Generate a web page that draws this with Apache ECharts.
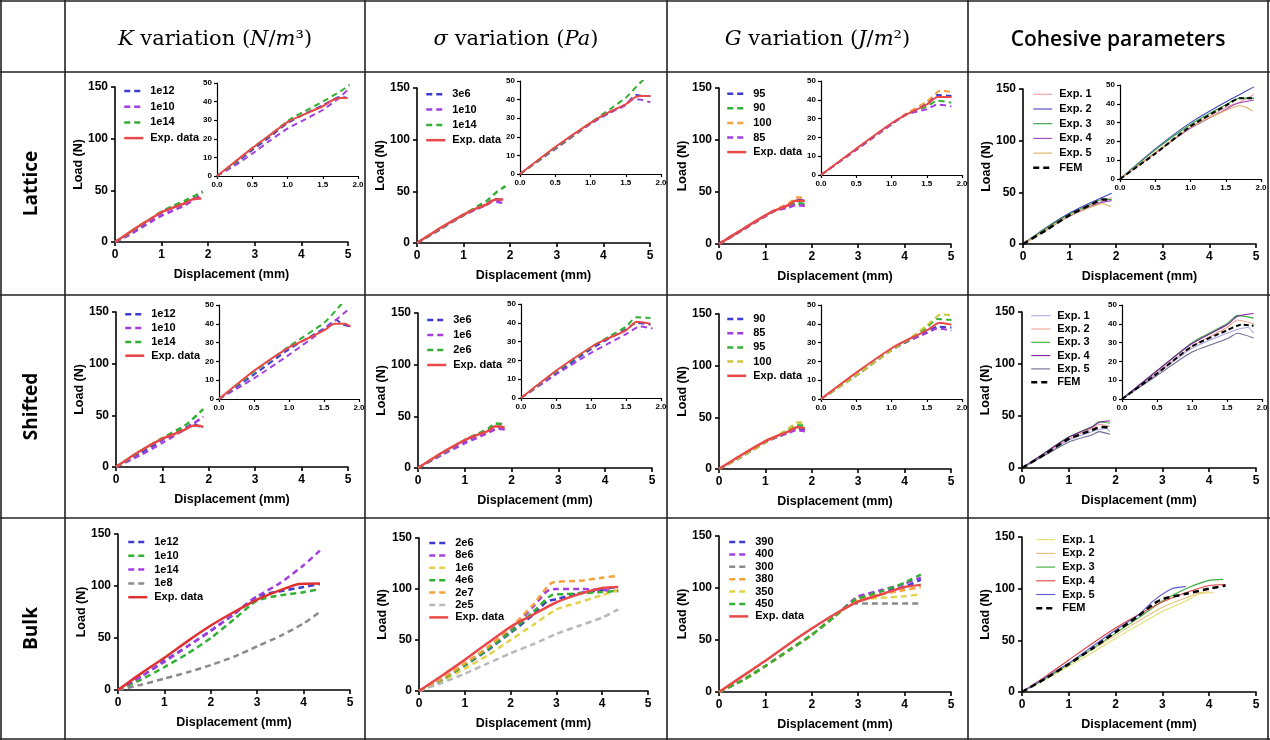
<!DOCTYPE html>
<html>
<head>
<meta charset="utf-8">
<script src="https://cdn.jsdelivr.net/npm/echarts@6/dist/echarts.min.js"></script>
<style>
  html, body { margin: 0; padding: 0; background: #fff; }
  #main { width: 1270px; height: 740px; }
</style>
</head>
<body>
<div id="main"></div>
<script>
// ---- data: [displacement (mm), load (N)] ----
// Lattice row
var latK_e12 = [[0,0],[0.25,6.5],[0.5,14],[0.75,21],[1,28.5],[1.25,33.5],[1.5,38],[1.75,42.5],[1.85,42]];
var latK_e10 = [[0,0],[0.25,5.5],[0.5,12],[0.75,19],[1,25.5],[1.25,30.5],[1.5,35.5],[1.75,42.5],[1.88,47.5]];
var latK_e14 = [[0,0],[0.25,7],[0.5,15],[0.75,22],[1,29.5],[1.25,35],[1.5,40],[1.75,45.5],[1.88,49]];
var latK_exp = [[0,0],[0.25,7.5],[0.5,15],[0.75,22],[1,29],[1.2,32.5],[1.5,37.5],[1.65,41],[1.75,42],[1.85,42]];

var latS_3e6 = [[0,0],[0.5,13.5],[1,27],[1.25,32.5],[1.5,37.5],[1.65,42.5],[1.75,42],[1.85,42]];
var latS_e10 = [[0,0],[0.5,13.5],[1,27],[1.25,32.5],[1.5,37],[1.6,40],[1.7,40],[1.85,38.5]];
var latS_e14 = [[0,0],[0.5,14],[1,27.5],[1.3,35.5],[1.5,41],[1.73,50],[1.9,55]];
var latS_exp = [[0,0],[0.5,14.5],[1,27.5],[1.25,33],[1.5,37.5],[1.62,41],[1.7,42],[1.85,42]];

var latG_95 = [[0,0],[0.5,13.5],[1,27],[1.2,32],[1.5,38],[1.65,42.5],[1.85,42]];
var latG_90 = [[0,0],[0.5,13.5],[1,27],[1.2,32],[1.5,36.5],[1.65,39.5],[1.85,38.5]];
var latG_100 = [[0,0],[0.5,13.5],[1,27],[1.2,32.5],[1.5,39],[1.7,45],[1.85,44]];
var latG_85 = [[0,0],[0.5,13.5],[1,27],[1.2,32],[1.5,35],[1.65,37.5],[1.85,36.5]];
var latG_exp = [[0,0],[0.5,14],[1,27.5],[1.2,32],[1.5,37.5],[1.65,41.5],[1.85,41.5]];

var latC_1 = [[0,0],[0.5,13.5],[1,27.5],[1.5,38],[1.7,41],[1.9,45]];
var latC_2 = [[0,0],[0.5,16],[1,30],[1.5,41],[1.7,45],[1.9,49]];
var latC_3 = [[0,0],[0.5,15.5],[1,29],[1.5,39.5],[1.7,43],[1.9,43]];
var latC_4 = [[0,0],[0.5,14],[1,27],[1.5,37],[1.65,40],[1.9,42]];
var latC_5 = [[0,0],[0.5,14],[1,27.5],[1.5,36.5],[1.7,39],[1.8,38],[1.88,36]];
var latC_fem = [[0,0],[0.5,13.5],[1,28],[1.5,39],[1.7,43],[1.9,43]];

// Shifted row
var shK_e12 = [[0,0],[0.5,13],[1,26.5],[1.25,32],[1.5,37.5],[1.68,42],[1.75,40],[1.88,38.5]];
var shK_e10 = [[0,0],[0.5,11],[1,23.5],[1.5,37],[1.88,48.5]];
var shK_e14 = [[0,0],[0.5,14.5],[1,28],[1.5,40.5],[1.75,50.5],[1.88,56]];
var shK_exp = [[0,0],[0.5,15],[1,27.5],[1.2,31],[1.5,36.5],[1.65,40],[1.8,40],[1.88,38.5]];

var shS_3e6 = [[0,0],[0.5,13],[1,26],[1.25,31.5],[1.5,36.5],[1.65,40],[1.85,39]];
var shS_1e6 = [[0,0],[0.5,12.5],[1,24],[1.25,29],[1.5,34],[1.7,38],[1.88,37]];
var shS_2e6 = [[0,0],[0.5,14],[1,27],[1.25,32.5],[1.5,38],[1.65,43],[1.85,42.5]];
var shS_exp = [[0,0],[0.5,14.5],[1,27],[1.2,31],[1.5,36],[1.65,40.5],[1.85,39.5]];

var shG_90 = [[0,0],[0.5,12.5],[1,26],[1.25,31],[1.5,35.5],[1.65,38.5],[1.85,38]];
var shG_85 = [[0,0],[0.5,12.5],[1,26],[1.25,31],[1.5,35],[1.65,37.5],[1.85,36.5]];
var shG_95 = [[0,0],[0.5,12.5],[1,26],[1.25,31.5],[1.5,38],[1.65,42.5],[1.85,42]];
var shG_100 = [[0,0],[0.5,12.5],[1,26],[1.25,32],[1.5,39],[1.7,45],[1.85,44.5]];
var shG_exp = [[0,0],[0.5,14],[1,27],[1.2,31],[1.5,36.5],[1.68,40.5],[1.85,39.5]];

var shC_1 = [[0,0],[0.5,13.5],[1,27],[1.5,35],[1.65,37],[1.8,38],[1.88,35]];
var shC_2 = [[0,0],[0.5,14],[1,28],[1.5,38],[1.65,42],[1.88,40]];
var shC_3 = [[0,0],[0.5,15],[1,30],[1.5,40],[1.65,44.5],[1.88,43]];
var shC_4 = [[0,0],[0.5,15],[1,29.5],[1.5,39.5],[1.65,44],[1.88,45.5]];
var shC_5 = [[0,0],[0.5,12.5],[1,25],[1.5,32],[1.65,35],[1.88,32.5]];
var shC_fem = [[0,0],[0.5,13.5],[1,28],[1.5,36.5],[1.7,39.5],[1.88,39]];

// Bulk row
var bulkK_e12 = [[0,0],[0.5,13],[1,28],[1.5,42],[2,57],[2.5,73],[3,90],[3.5,95],[4,99],[4.35,102]];
var bulkK_e10 = [[0,0],[0.5,10],[1,22],[1.5,35],[2,50],[2.5,68],[3,86],[3.5,91],[4,94],[4.35,97]];
var bulkK_e14 = [[0,0],[0.5,13],[1,27],[1.5,42],[2,57],[2.5,73],[3,90],[3.5,103],[4,120],[4.35,134]];
var bulkK_e8 = [[0,0],[0.5,5],[1,11],[1.5,17],[2,24],[2.5,32],[3,42],[3.5,52],[4,64],[4.35,75]];
var bulkK_exp = [[0,0],[0.5,16],[1,31],[1.5,47],[2,62],[2.5,75],[3,87],[3.5,96],[3.9,102],[4.35,102.5]];

var bulkS_2e6 = [[0,0],[0.5,11],[1,25],[1.5,40],[2,57],[2.5,75],[2.8,88],[3,90],[3.5,96],[4,99],[4.35,103]];
var bulkS_8e6 = [[0,0],[0.5,11],[1,26],[1.5,42],[2,60],[2.5,83],[2.8,98],[3,100],[3.5,100],[4,99],[4.35,98]];
var bulkS_1e6 = [[0,0],[0.5,10],[1,22],[1.5,35],[2,50],[2.5,65],[3,80],[3.5,87],[4,94],[4.35,99]];
var bulkS_4e6 = [[0,0],[0.5,11],[1,25.5],[1.5,41],[2,58],[2.5,78],[2.9,94],[3.2,95],[3.6,96],[4,97],[4.35,98]];
var bulkS_2e7 = [[0,0],[0.5,12],[1,27],[1.5,43],[2,62],[2.5,85],[2.9,106],[3.5,108],[4,111],[4.35,113]];
var bulkS_2e5 = [[0,0],[0.5,8],[1,17],[1.5,27],[2,37],[2.5,46],[3,56],[3.5,64],[4,72],[4.35,80]];
var bulkS_exp = [[0,0],[0.5,15],[1,30.5],[1.5,47],[2,63],[2.5,75],[3,87],[3.5,95],[4,101],[4.35,102]];

var bulkG_390 = [[0,0],[0.5,11],[1,25],[1.5,40],[2,55],[2.5,73],[2.9,88],[3,91],[3.5,97],[4,101],[4.35,108]];
var bulkG_400 = [[0,0],[0.5,11],[1,25],[1.5,40],[2,55],[2.5,73],[2.9,89],[3,92],[3.5,98],[4,104],[4.35,110]];
var bulkG_300 = [[0,0],[0.5,11],[1,25],[1.5,40],[2,55],[2.5,73],[2.9,85],[3.2,85],[4.35,85]];
var bulkG_380 = [[0,0],[0.5,11],[1,25],[1.5,40],[2,55],[2.5,73],[2.9,87],[3,89],[3.5,94],[4,98],[4.35,101]];
var bulkG_350 = [[0,0],[0.5,11],[1,25],[1.5,40],[2,55],[2.5,73],[2.9,86],[3,88],[3.3,90],[4,92],[4.35,94]];
var bulkG_450 = [[0,0],[0.5,11],[1,25],[1.5,40],[2,55],[2.5,73],[2.9,88],[3,90],[3.5,97],[4,105],[4.35,113]];
var bulkG_exp = [[0,0],[0.5,15],[1,30],[1.5,46],[2,61],[2.5,75],[3,87],[3.5,94],[4,101],[4.35,103]];

var bulkC_1 = [[0,0],[0.5,12],[1,25],[1.5,38],[2,52],[2.5,65],[3,78],[3.5,88],[3.8,95],[4.1,96]];
var bulkC_2 = [[0,0],[0.5,13],[1,27],[1.5,41],[2,55],[2.5,69],[3,82],[3.5,91],[3.8,96],[4,97]];
var bulkC_3 = [[0,0],[0.5,13],[1,27],[1.5,42],[2,57],[2.5,72],[3,88],[3.5,100],[4,108],[4.3,109]];
var bulkC_4 = [[0,0],[0.5,15],[1,31],[1.5,47],[2,62],[2.5,75],[3,87],[3.5,96],[4,103],[4.35,104]];
var bulkC_5 = [[0,0],[0.5,14],[1,28],[1.5,44],[2,60],[2.5,75],[2.8,88],[3.2,100],[3.5,102]];
var bulkC_fem = [[0,0],[0.5,13],[1,27],[1.5,42],[2,58],[2.5,74],[2.8,85],[3,90],[3.5,95],[4,100],[4.35,103]];

// tick labels / headers
var mainXTicks = [0, 1, 2, 3, 4, 5];
var colHeaders = ['{i|K} variation ({i|N}/{i|m}³)', '{i|σ} variation ({i|Pa})', '{i|G} variation ({i|J}/{i|m}²)', 'Cohesive parameters'];
var rowHeaders = ['Lattice', 'Shifted', 'Bulk'];

// colours
var BLUE = '#3c3cd2', PURPLE = '#a33ee0', GREEN = '#33b033', RED = '#e84848',
    ORANGE = '#f3a23e', GRAY = '#8a8a8a', LGRAY = '#b8b8b8', YELLOW = '#e2d24a', OLIVE = '#c8c838';
var FONT = '"Liberation Sans", Arial, sans-serif';

// cell layout: main plot rect, inset rect, legend [left, top, gap]
var cells = [
  { main: [115, 87, 348, 242], inset: [217, 83, 358, 176], leg: [123, 85.5, 4.7],
    curves: [['1e12', latK_e12, BLUE, 'dash'], ['1e10', latK_e10, PURPLE, 'dash'], ['1e14', latK_e14, GREEN, 'dash'], ['Exp. data', latK_exp, RED, 'solid']] },
  { main: [417, 88, 650, 243], inset: [520, 81, 661, 174], leg: [425, 88.8, 4.3],
    curves: [['3e6', latS_3e6, BLUE, 'dash'], ['1e10', latS_e10, PURPLE, 'dash'], ['1e14', latS_e14, GREEN, 'dash'], ['Exp. data', latS_exp, RED, 'solid']] },
  { main: [719, 88, 951, 244], inset: [821, 81, 962, 175], leg: [726, 88.2, 3.6],
    curves: [['95', latG_95, BLUE, 'dash'], ['90', latG_90, GREEN, 'dash'], ['100', latG_100, ORANGE, 'dash'], ['85', latG_85, PURPLE, 'dash'], ['Exp. data', latG_exp, RED, 'solid']] },
  { main: [1023, 89, 1256, 244], inset: [1120, 85, 1261, 179], leg: [1032, 88.8, 3.7],
    curves: [['Exp. 1', latC_1, '#f2a0a0', 'thin'], ['Exp. 2', latC_2, '#4646c0', 'thin'], ['Exp. 3', latC_3, '#2f9f3a', 'thin'], ['Exp. 4', latC_4, '#a044c4', 'thin'], ['Exp. 5', latC_5, '#e0b060', 'thin'], ['FEM', latC_fem, '#000', 'fem']] },

  { main: [116, 312, 348, 467], inset: [219, 305, 359, 399], leg: [124, 308.8, 2.8],
    curves: [['1e12', shK_e12, BLUE, 'dash'], ['1e10', shK_e10, PURPLE, 'dash'], ['1e14', shK_e14, GREEN, 'dash'], ['Exp. data', shK_exp, RED, 'solid']] },
  { main: [418, 313, 652, 468], inset: [521, 304, 661, 398], leg: [426, 314.5, 4],
    curves: [['3e6', shS_3e6, BLUE, 'dash'], ['1e6', shS_1e6, PURPLE, 'dash'], ['2e6', shS_2e6, GREEN, 'dash'], ['Exp. data', shS_exp, RED, 'solid']] },
  { main: [719, 314, 951, 469], inset: [821, 305, 962, 399], leg: [726, 313.5, 3.2],
    curves: [['90', shG_90, BLUE, 'dash'], ['85', shG_85, PURPLE, 'dash'], ['95', shG_95, GREEN, 'dash'], ['100', shG_100, OLIVE, 'dash'], ['Exp. data', shG_exp, RED, 'solid']] },
  { main: [1022, 312, 1256, 468], inset: [1122, 305, 1262, 399], leg: [1030, 310.2, 2.3],
    curves: [['Exp. 1', shC_1, '#a8a8e8', 'thin'], ['Exp. 2', shC_2, '#f0a090', 'thin'], ['Exp. 3', shC_3, '#3aae3a', 'thin'], ['Exp. 4', shC_4, '#7a1e9e', 'thin'], ['Exp. 5', shC_5, '#6c6c90', 'thin'], ['FEM', shC_fem, '#000', 'fem']] },

  { main: [118, 534, 350, 690], inset: null, leg: [127, 536.5, 2.8],
    curves: [['1e12', bulkK_e12, BLUE, 'dash'], ['1e10', bulkK_e10, GREEN, 'dash'], ['1e14', bulkK_e14, PURPLE, 'dash'], ['1e8', bulkK_e8, GRAY, 'dash'], ['Exp. data', bulkK_exp, '#e03030', 'solid']] },
  { main: [419, 538, 648, 691], inset: null, leg: [428, 537.5, 1.4],
    curves: [['2e6', bulkS_2e6, BLUE, 'dash'], ['8e6', bulkS_8e6, PURPLE, 'dash'], ['1e6', bulkS_1e6, YELLOW, 'dash'], ['4e6', bulkS_4e6, GREEN, 'dash'], ['2e7', bulkS_2e7, ORANGE, 'dash'], ['2e5', bulkS_2e5, LGRAY, 'dash'], ['Exp. data', bulkS_exp, RED, 'solid']] },
  { main: [719, 536, 951, 692], inset: null, leg: [728, 536.5, 1.4],
    curves: [['390', bulkG_390, BLUE, 'dash'], ['400', bulkG_400, PURPLE, 'dash'], ['300', bulkG_300, GRAY, 'dash'], ['380', bulkG_380, ORANGE, 'dash'], ['350', bulkG_350, YELLOW, 'dash'], ['450', bulkG_450, GREEN, 'dash'], ['Exp. data', bulkG_exp, RED, 'solid']] },
  { main: [1022, 537, 1256, 692], inset: null, leg: [1035, 534.2, 2.7],
    curves: [['Exp. 1', bulkC_1, '#e2e070', 'thin'], ['Exp. 2', bulkC_2, '#e8c07c', 'thin'], ['Exp. 3', bulkC_3, '#3aae3a', 'thin'], ['Exp. 4', bulkC_4, '#e04040', 'thin'], ['Exp. 5', bulkC_5, '#5c5cd0', 'thin'], ['FEM', bulkC_fem, '#000', 'fem']] }
];

var option = {
  backgroundColor: '#fff',
  animation: false,
  grid: [], xAxis: [], yAxis: [], series: [], legend: [], graphic: []
};

function addGrid(r, inset) {
  var idx = option.grid.length;
  option.grid.push({
    left: r[0], top: r[1], width: r[2] - r[0], height: r[3] - r[1],
    containLabel: false, outerBoundsMode: 'none', show: false
  });
  var fs = inset ? 8 : 12;
  var lw = inset ? 1.2 : 1.6;
  var common = {
    gridIndex: idx, type: 'value', min: 0,
    axisLine: { show: true, onZero: false, lineStyle: { color: '#000', width: lw } },
    axisTick: { show: true, inside: false, length: inset ? 3 : 4, lineStyle: { color: '#000', width: lw } },
    splitLine: { show: false },
    axisLabel: { color: '#000', fontSize: fs, fontWeight: 'bold', fontFamily: FONT, margin: inset ? 5 : 7 },
    nameMoveOverlap: false
  };
  var xa = echarts.util.merge({}, common, true);
  var ya = echarts.util.merge({}, common, true);
  if (inset) {
    xa.max = 2; xa.interval = 0.5;
    xa.axisLabel.formatter = function (v) { return v.toFixed(1); };
    ya.max = 50; ya.interval = 10;
  } else {
    xa.max = mainXTicks[mainXTicks.length - 1]; xa.interval = 1;
    ya.max = 150; ya.interval = 50;
    xa.name = 'Displacement (mm)'; xa.nameLocation = 'middle'; xa.nameGap = 26;
    xa.nameTextStyle = { color: '#000', fontSize: 12.5, fontWeight: 'bold', fontFamily: FONT };
    ya.name = 'Load (N)'; ya.nameLocation = 'middle'; ya.nameGap = 30;
    ya.nameTextStyle = { color: '#000', fontSize: 12.5, fontWeight: 'bold', fontFamily: FONT };
  }
  option.xAxis.push(xa);
  option.yAxis.push(ya);
  return idx;
}

function makeSeries(name, c, g, inset) {
  var kind = c[3];
  var w;
  if (kind === 'thin') w = 1.1;
  else w = inset ? 2 : 2.5;
  var type = (kind === 'dash' || kind === 'fem') ? [6, 4] : 'solid';
  if (kind === 'fem' && inset) type = [5, 3];
  return {
    name: name, type: 'line', xAxisIndex: g, yAxisIndex: g,
    data: c[1], color: c[2],
    symbol: 'none', showSymbol: false, smooth: 0.2, clip: true, silent: true,
    lineStyle: { color: c[2], width: w, type: type, cap: 'butt' },
    itemStyle: { color: c[2] }
  };
}

cells.forEach(function (cell, ci) {
  var gm = addGrid(cell.main, false);
  var gi = cell.inset ? addGrid(cell.inset, true) : -1;
  var names = [];
  cell.curves.forEach(function (c) {
    var nm = c[0] + '@' + ci;
    names.push(nm);
    option.series.push(makeSeries(nm, c, gm, false));
    if (gi >= 0) option.series.push(makeSeries(nm + '@in', c, gi, true));
  });
  option.legend.push({
    data: names, orient: 'vertical', left: cell.leg[0], top: cell.leg[1], itemGap: cell.leg[2],
    padding: 0, itemWidth: 19, itemHeight: 8, selectedMode: false,
    formatter: function (n) { return n.split('@')[0]; },
    textStyle: { color: '#000', fontSize: 11, fontWeight: 'bold', fontFamily: FONT, padding: [0, 0, 0, 2] },
    lineStyle: { width: 'inherit', type: 'inherit' },
    itemStyle: { opacity: 0 }
  });
});

// table frame
var colX = [1, 65, 365, 667, 968, 1268];
var rowY = [1, 72, 295, 518, 739];
colX.forEach(function (x) {
  option.graphic.push({ type: 'line', shape: { x1: x, y1: 0, x2: x, y2: 740 }, style: { stroke: '#222', lineWidth: 1.6 }, z: 100 });
});
rowY.forEach(function (y) {
  option.graphic.push({ type: 'line', shape: { x1: 0, y1: y, x2: 1270, y2: y }, style: { stroke: '#222', lineWidth: 1.6 }, z: 100 });
});

// column headers
colHeaders.forEach(function (t, i) {
  var cx = (colX[i + 1] + colX[i + 2]) / 2;
  var isSans = i === 3;
  option.graphic.push({
    type: 'text', x: cx, y: 40, z: 100,
    style: {
      text: t, align: 'center', verticalAlign: 'middle', fill: '#000',
      fontSize: isSans ? 21 : 21, fontWeight: isSans ? 600 : 'normal',
      fontFamily: isSans ? '"Open Sans", sans-serif' : '"DejaVu Serif", serif',
      rich: { i: { fontStyle: 'italic', fontSize: 21, fontFamily: '"DejaVu Serif", serif' } }
    }
  });
});

// row headers
rowHeaders.forEach(function (t, i) {
  var cy = (rowY[i + 1] + rowY[i + 2]) / 2;
  option.graphic.push({
    type: 'text', x: 32, y: cy, rotation: Math.PI / 2, z: 100,
    style: {
      text: t, align: 'center', verticalAlign: 'middle', fill: '#000',
      fontSize: 19, fontWeight: 'bold', fontFamily: '"Open Sans", sans-serif'
    }
  });
});

var chart = echarts.init(document.getElementById('main'), null, { renderer: 'canvas' });
chart.setOption(option);
</script>
</body>
</html>
